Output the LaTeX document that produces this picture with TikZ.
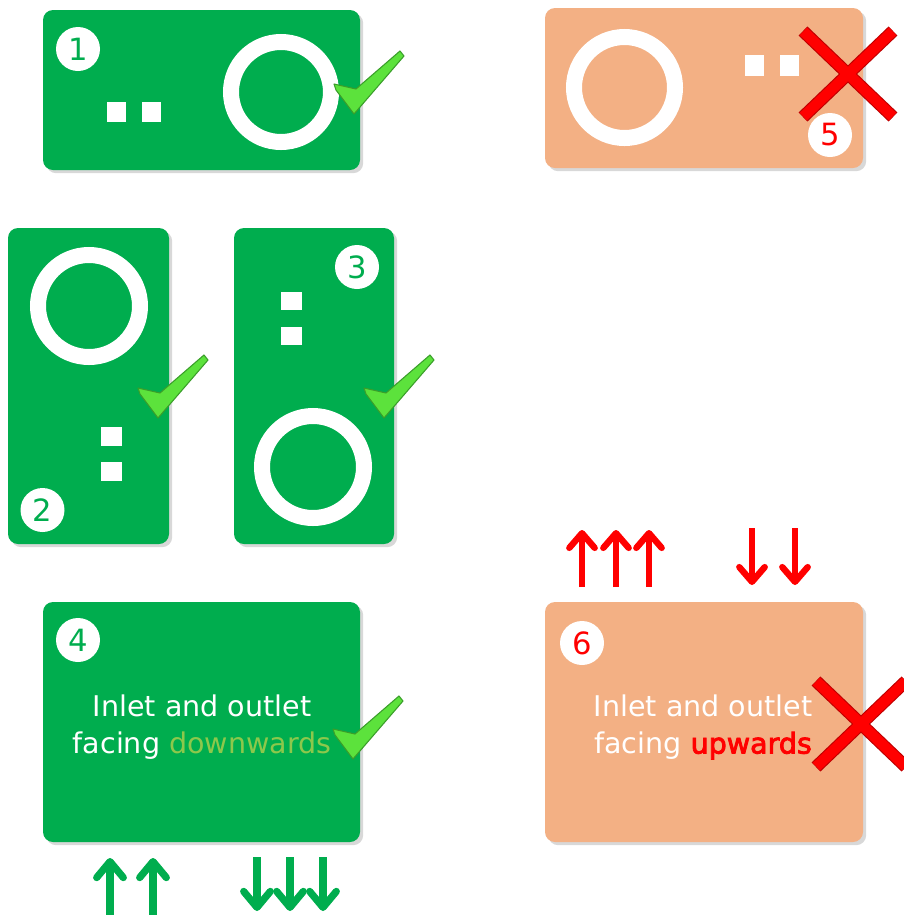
\documentclass[tikz,border=0pt]{standalone}
\usepackage{fontspec}
\setmainfont{DejaVu Sans}
\usetikzlibrary{shadows,arrows.meta}
\definecolor{boxgreen}{HTML}{00AD4E}
\definecolor{boxpeach}{HTML}{F3B084}
\definecolor{chkfill}{HTML}{5CE23C}
\definecolor{chkline}{HTML}{3A9E2A}
\definecolor{lightgreen}{HTML}{8CC84B}
\definecolor{xred}{HTML}{FF0000}
\definecolor{xdark}{HTML}{C00000}
\begin{document}
\begin{tikzpicture}[x=0.75pt,y=-0.75pt,
  panel/.style={rounded corners=7.5pt, drop shadow={opacity=0.3, shadow xshift=2.4pt, shadow yshift=-2.4pt}},
  greenpanel/.style={panel, fill=boxgreen},
  peachpanel/.style={panel, fill=boxpeach},
  ring/.style={draw=white, line width=12pt},
  sq/.style={fill=white},
  numg/.style={circle, fill=white, minimum size=33pt, inner sep=0pt, text=boxgreen, font=\fontsize{23}{23}\selectfont},
  numr/.style={circle, fill=white, minimum size=33pt, inner sep=0pt, text=xred, font=\fontsize{23}{23}\selectfont},
  txt/.style={text=white, align=center, font=\fontsize{21.4}{28}\selectfont},
  garrow/.style={draw=boxgreen, line width=5.4pt, -{Straight Barb[length=12pt, width=20pt, round]}},
  rarrow/.style={draw=xred, line width=4.8pt, -{Straight Barb[length=11pt, width=19pt, round]}},
  chk/.pic={\draw[fill=chkfill, draw=chkline, line width=0.8pt, line join=round]
     (-19,-29) -- (3,-24) -- (47,-62) -- (51,-57) -- (1,1) -- (-17,-23) -- cycle;},
  crs/.pic={\draw[xdark, line width=9.5pt] (-45,-43) -- (45,43) (45,-43) -- (-45,43);
            \draw[xred, line width=7.8pt] (-44.6,-42.6) -- (44.6,42.6) (44.6,-42.6) -- (-44.6,42.6);}
]
\useasboundingbox (0,0) rectangle (904,915);
\fill[white] (0,0) rectangle (904,915);

% ---- Box 1 ----
\fill[greenpanel] (43,10) rectangle (360,170);
\node[numg] (n1) at (78,49) {1};
\fill[sq] (107,102) rectangle ++(19,20);
\fill[sq] (142,102) rectangle ++(19,20);
\draw[ring] (281,92) circle (50);
\pic at (353,113) {chk};

% ---- Box 5 ----
\fill[peachpanel] (545,8) rectangle (863,168);
\draw[ring] (624.5,87.5) circle (50.5);
\fill[sq] (745,55) rectangle ++(19,21);
\fill[sq] (780,55) rectangle ++(19,21);
\pic at (848,74) {crs};
\node[numr] (n5) at (830,135) {5};

% ---- Box 2 ----
\fill[greenpanel] (8,228) rectangle (169,544);
\draw[ring] (89,306) circle (51);
\fill[sq] (101,427) rectangle ++(21,19);
\fill[sq] (101,462) rectangle ++(21,19);
\node[numg] (n2) at (42.5,510) {2};
\pic at (157,417) {chk};

% ---- Box 3 ----
\fill[greenpanel] (234,228) rectangle (394,544);
\node[numg] (n3) at (357,267) {3};
\fill[sq] (281,292) rectangle ++(21,18);
\fill[sq] (281,327) rectangle ++(21,18);
\draw[ring] (313,467) circle (51);
\pic at (383,417) {chk};

% ---- Box 4 ----
\fill[greenpanel] (43,602) rectangle (360,842);
\node[numg] (n4) at (78,640) {4};
\node[txt] (t4) at (202,727) {Inlet and outlet\\facing \textcolor{lightgreen}{downwards}};
\pic at (352,758) {chk};
\coordinate (a4u1s) at (110,918); \coordinate (a4u1e) at (110,858);
\coordinate (a4u2s) at (153,918); \coordinate (a4u2e) at (153,858);
\coordinate (a4d1s) at (257,857); \coordinate (a4d1e) at (257,911);
\coordinate (a4d2s) at (290,857); \coordinate (a4d2e) at (290,911);
\coordinate (a4d3s) at (323,857); \coordinate (a4d3e) at (323,911);
\draw[garrow] (a4u1s) -- (a4u1e);
\draw[garrow] (a4u2s) -- (a4u2e);
\draw[garrow] (a4d1s) -- (a4d1e);
\draw[garrow] (a4d2s) -- (a4d2e);
\draw[garrow] (a4d3s) -- (a4d3e);

% ---- Box 6 ----
\fill[peachpanel] (545,602) rectangle (863,842);
\node[numr] (n6) at (582,643) {6};
\node[txt] (t6) at (703,727) {Inlet and outlet\\facing \textcolor{xred}{\addfontfeatures{FakeBold=3}upwards}};
\pic at (861,724) {crs};
\coordinate (a6u1s) at (582,587); \coordinate (a6u1e) at (582,530);
\coordinate (a6u2s) at (616,587); \coordinate (a6u2e) at (616,530);
\coordinate (a6u3s) at (649,587); \coordinate (a6u3e) at (649,530);
\coordinate (a6d1s) at (752,528); \coordinate (a6d1e) at (752,585);
\coordinate (a6d2s) at (795,528); \coordinate (a6d2e) at (795,585);
\draw[rarrow] (a6u1s) -- (a6u1e);
\draw[rarrow] (a6u2s) -- (a6u2e);
\draw[rarrow] (a6u3s) -- (a6u3e);
\draw[rarrow] (a6d1s) -- (a6d1e);
\draw[rarrow] (a6d2s) -- (a6d2e);
\end{tikzpicture}
\end{document}
